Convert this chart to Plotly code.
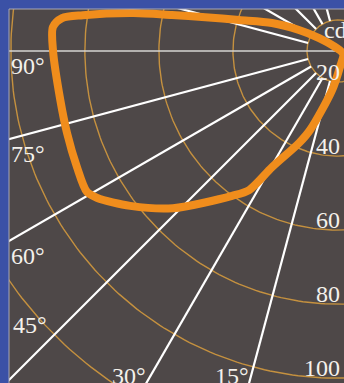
import numpy as np
import plotly.graph_objects as go

# intensity curve: angle from nadir (deg) and candela
curve_angle = [-60, -7, 8.7, 19.5, 23, 29.6, 32.6, 36.2, 46.4, 53.3, 58.6, 60.7, 66, 73.2, 80, 90,
               94.8, 96.8, 98, 100.5, 102.2, 104.3, 107.4, 113, 118.3, 124.4, 143]
curve_cd = [13.2, 15.9, 22.3, 34.2, 38.6, 47.7, 56.2, 60.1, 73.2, 81.6, 87.8, 89.4, 88.8, 88.1, 87.8, 88.6,
            88.9, 86.7, 81.2, 67.8, 57.5, 48.6, 39.6, 31.0, 23.6, 17.8, 13.0]

ring_values = [20, 40, 60, 80, 100, 120]
ring_labels = ['20', '40', '60', '80', '100']
spoke_angles = [15, 30, 45, 60, 75, 105, 120, 135, 150, 165]
angle_labels = [90, 75, 60, 45, 30, 15]

R_MIN = 11.6          # radial axis origin (cd)
X_RANGE = [-88.9, 1.6]
Y_RANGE = [-89.7, 11.35]

BLUE = '#3b51a6'
ORANGE = '#f08d1c'
RING = '#c5913f'
FONT = dict(family='Liberation Serif, Times New Roman, serif', size=24, color='#f4f1ec')


def to_xy(theta, cd):
    g = np.asarray(cd, dtype=float) - R_MIN
    t = np.radians(np.asarray(theta, dtype=float))
    return -g * np.sin(t), -g * np.cos(t)


fig = go.Figure()

# rings
circle = np.linspace(-180, 180, 361)
for v in ring_values:
    x, y = to_xy(circle, [v] * len(circle))
    fig.add_trace(go.Scatter(x=x, y=y, mode='lines', line=dict(color=RING, width=1.4),
                             hoverinfo='skip', showlegend=False))

# spokes start at the inner ring
for a in spoke_angles:
    x, y = to_xy([a, a], [ring_values[0], 200])
    fig.add_trace(go.Scatter(x=x, y=y, mode='lines', line=dict(color='#ffffff', width=2.2),
                             hoverinfo='skip', showlegend=False))

# horizontal 90 deg line across the whole diagram
x, y = to_xy([90, -90], [200, 200])
fig.add_trace(go.Scatter(x=x, y=y, mode='lines', line=dict(color='#d6d4d2', width=1.5),
                         hoverinfo='skip', showlegend=False))

# intensity curve (closed)
x, y = to_xy(curve_angle + curve_angle[:1], curve_cd + curve_cd[:1])
fig.add_trace(go.Scatter(x=x, y=y, mode='lines', line=dict(color=ORANGE, width=8, shape='spline', smoothing=0.8),
                         hoverinfo='skip', showlegend=False))

annotations = []
# cd scale labels under the ring bottoms
for v, lab in zip(ring_values, ring_labels):
    annotations.append(dict(x=1.0, y=-(v - R_MIN), text=lab, showarrow=False, font=FONT,
                            xanchor='right', yanchor='bottom', yshift=-5))
annotations.append(dict(x=-4.3, y=ring_values[0] - R_MIN, text='cd', showarrow=False, font=FONT,
                        xanchor='left', yanchor='top', yshift=5))

# angle labels where the spokes meet the frame
for a in angle_labels:
    t = np.radians(a)
    if a >= 45:
        xe = X_RANGE[0]
        ye = xe * np.cos(t) / np.sin(t)
        if a == 45:
            annotations.append(dict(x=xe, y=ye, text=f'{a}°', showarrow=False, font=FONT,
                                    xanchor='left', yanchor='bottom', xshift=2, yshift=40))
        else:
            annotations.append(dict(x=xe, y=ye, text=f'{a}°', showarrow=False, font=FONT,
                                    xanchor='left', yanchor='top', xshift=0, yshift=0))
    else:
        ye = Y_RANGE[0]
        xe = ye * np.sin(t) / np.cos(t)
        annotations.append(dict(x=xe, y=ye, text=f'{a}°', showarrow=False, font=FONT,
                                xanchor='right', yanchor='top', xshift=2, yshift=22))

fig.update_layout(
    width=344, height=383,
    margin=dict(l=9, r=0, t=9, b=0),
    paper_bgcolor=BLUE,
    plot_bgcolor='#4e4848',
    annotations=annotations,
    shapes=[dict(type='line', xref='paper', yref='paper', x0=0, x1=1, y0=1, y1=1,
                 line=dict(color='#a9a8b4', width=1)),
            dict(type='line', xref='paper', yref='paper', x0=0, x1=0, y0=0, y1=1,
                 line=dict(color='#a9a8b4', width=1))],
)
fig.update_xaxes(range=X_RANGE, visible=False, fixedrange=True)
fig.update_yaxes(range=Y_RANGE, visible=False, fixedrange=True)

# drop the page margin so the figure fills the window exactly
fig.write_html('out.html', config={'displayModeBar': False},
               post_script=f"document.body.style.margin = '0'; document.body.style.background = '{BLUE}';")
